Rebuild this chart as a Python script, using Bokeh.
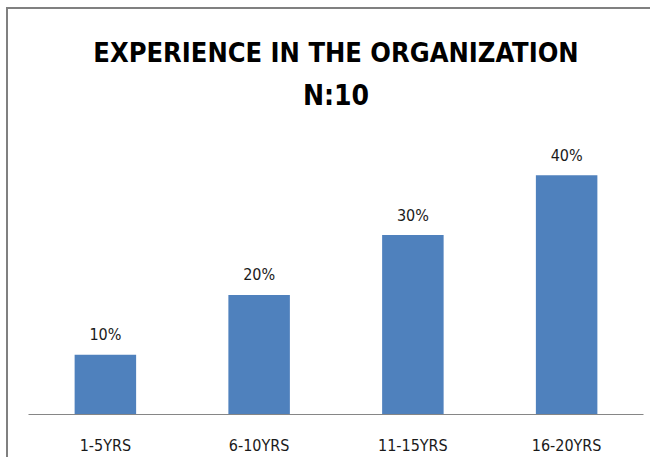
from bokeh.plotting import figure
from bokeh.models import ColumnDataSource, Title, FactorRange, Range1d
from bokeh.core.properties import value
from bokeh.embed import file_html
from bokeh.resources import INLINE

categories = ["1-5YRS", "6-10YRS", "11-15YRS", "16-20YRS"]
percentages = [10, 20, 30, 40]
value_labels = ["10%", "20%", "30%", "40%"]
title_line1 = "EXPERIENCE IN THE ORGANIZATION"
title_line2 = "N:10"

FONT = "DejaVu Sans Condensed"
BAR_COLOR = "#4F81BD"
BORDER = "#808080"

source = ColumnDataSource(data=dict(cat=categories, pct=percentages, lbl=value_labels))

p = figure(
    x_range=FactorRange(factors=categories, range_padding=0),
    y_range=Range1d(0, 50),
    frame_width=615, frame_height=299,
    output_backend="svg", toolbar_location=None,
    y_axis_location=None,
    min_border_left=20, min_border_right=7, min_border_bottom=42, min_border_top=106,
)
p.styles = {"border-top": "2px solid " + BORDER, "border-left": "2px solid " + BORDER,
            "margin-left": "6px", "margin-top": "7px"}

p.add_layout(Title(text=title_line2, align="center", text_font=FONT, text_font_size="28px",
                   text_font_style="bold", text_color="black", standoff=8), "above")
p.add_layout(Title(text=title_line1, align="center", text_font=FONT, text_font_size="27px",
                   text_font_style="bold", text_color="black", standoff=10), "above")

p.vbar(x="cat", top="pct", width=0.4, source=source, color=BAR_COLOR, line_color=None)
p.text(x="cat", y="pct", text="lbl", source=source, text_align="center",
       text_baseline="alphabetic", y_offset=-20, text_font=value(FONT),
       text_font_size="16px", text_color="#1a1a1a")

p.xgrid.visible = False
p.ygrid.visible = False
p.outline_line_color = None
ax = p.xaxis[0]
ax.axis_line_color = "#868686"
ax.major_tick_line_color = None
ax.minor_tick_line_color = None
ax.major_label_text_font = FONT
ax.major_label_text_font_size = "16px"
ax.major_label_text_color = "#1a1a1a"
ax.major_label_standoff = 15

open("out.html", "w").write(file_html(p, INLINE))
